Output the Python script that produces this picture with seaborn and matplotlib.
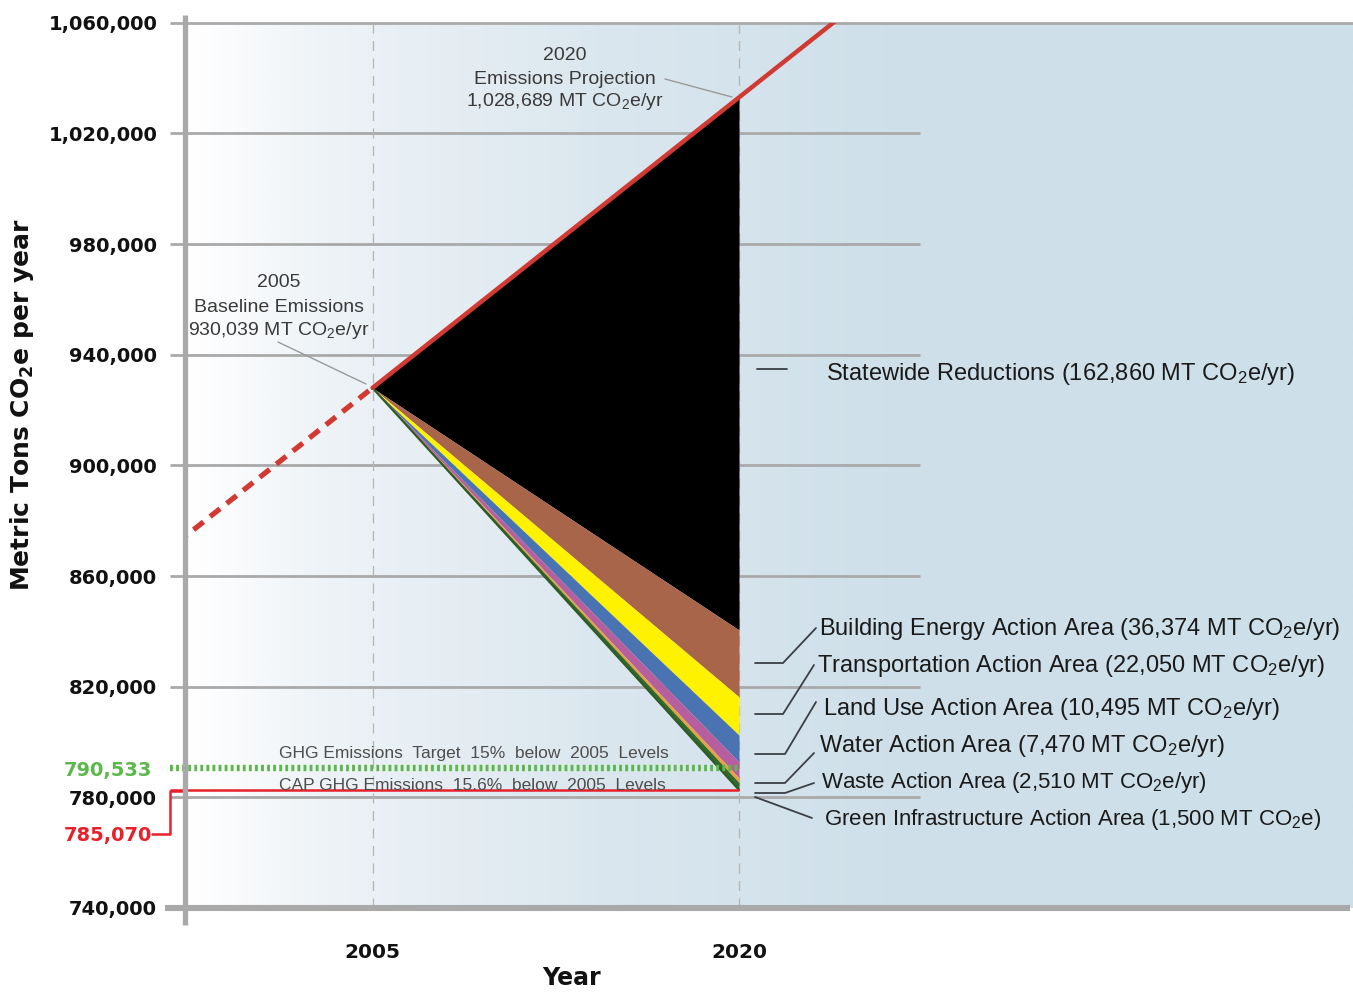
import numpy as np
import pandas as pd
import matplotlib
matplotlib.use('Agg')
import matplotlib.pyplot as plt
import seaborn as sns
from matplotlib.lines import Line2D
from matplotlib.colors import LinearSegmentedColormap

#-----------------------------------------
# data
#-----------------------------------------
tick_values = [740000, 780000, 820000, 860000, 900000, 940000, 980000, 1020000, 1060000]
tick_labels = ['740,000', '780,000', '820,000', '860,000', '900,000',
               '940,000', '980,000', '1,020,000', '1,060,000']
year_ticks = [2005, 2020]

# emissions trend (dashed before 2005, solid after)
trend_years = [1997, 2005, 2020, 2025]
trend_values = [872000, 928000, 1033000, 1068000]

baseline_year = 2005
baseline_value = 928000
target_year = 2020
target_value = 790533      # GHG target (green)
cap_value = 782700         # CAP level (red), as drawn

# reduction wedge: bottom of each band at 2020, top of first band = projection
band_names = ['Statewide Reductions', 'Building Energy', 'Transportation',
              'Land Use', 'Water', 'Waste', 'Green Infrastructure']
band_bottoms = [840500, 816300, 802500, 792800, 787000, 785300, 782700]
band_colors = ['#000000', '#a9654a', '#fff200', '#4a73b2', '#b55f9f', '#e9a23e', '#2f6a2c']
projection_2020 = 1033000

label_texts = [
    'Statewide Reductions (162,860 MT CO$_2$e/yr)',
    'Building Energy Action Area (36,374 MT CO$_2$e/yr)',
    'Transportation Action Area (22,050 MT CO$_2$e/yr)',
    'Land Use Action Area (10,495 MT CO$_2$e/yr)',
    'Water Action Area (7,470 MT CO$_2$e/yr)',
    'Waste Action Area (2,510 MT CO$_2$e/yr)',
    'Green Infrastructure Action Area (1,500 MT CO$_2$e)',
]

#-----------------------------------------
# style
#-----------------------------------------
sns.set_theme(style='white')
plt.rcParams['font.family'] = ['Liberation Sans', 'DejaVu Sans']
plt.rcParams['mathtext.default'] = 'regular'

W, H = 1353, 994
fig = plt.figure(figsize=(W / 100, H / 100), dpi=100)
fig.patch.set_facecolor('white')

def fx(x):
    return x / W

def fy(y):
    return 1 - y / H

ax = fig.add_axes([fx(185), fy(908), fx(W - 185), (908 - 22.7) / H])
px_per_year = 366.5 / 15
x_left = 2005 - (372.5 - 185) / px_per_year
x_right = 2020 + (W - 739) / px_per_year
for s in ax.spines.values():
    s.set_visible(False)

GRID = '#a9a9a9'

# background gradient
cmap = LinearSegmentedColormap.from_list(
    'bg', [(0, '#ffffff'), (0.12, '#eef3f7'), (0.35, '#dbe7ef'), (0.6, '#cfe0ea'), (1, '#cddfe9')])
grad = np.linspace(0, 1, 512).reshape(1, -1)
ax.imshow(grad, cmap=cmap, aspect='auto', extent=[x_left, x_right, 740000, 1060000],
          zorder=0, interpolation='bilinear')

# gridlines
grid_right = 2020 + 181 / px_per_year
ax.hlines(tick_values[1:-1], x_left, grid_right, color=GRID, lw=2.0, zorder=1)
ax.hlines(tick_values[-1], x_left, x_right, color=GRID, lw=2.0, zorder=1, clip_on=False)

# vertical year guides
for yr in year_ticks:
    ax.axvline(yr, color='#b5b5b5', lw=0.9, dashes=(8, 6), zorder=1)

# wedge
tops = [projection_2020] + band_bottoms[:-1]
for top, bot, col in zip(tops, band_bottoms, band_colors):
    ax.fill_between([baseline_year, target_year], [baseline_value, top],
                    [baseline_value, bot], color=col, lw=0, zorder=3)
ax.plot([baseline_year, target_year], [baseline_value, band_bottoms[-1]],
        color='#2f5a25', lw=1.6, zorder=4)

# trend line
trend = pd.DataFrame({'year': trend_years, 'value': trend_values})
sns.lineplot(data=trend[trend['year'] <= baseline_year], x='year', y='value', ax=ax,
             color='#d13a33', lw=3.8, linestyle=(0, (2.4, 1.6)), zorder=5)
sns.lineplot(data=trend[trend['year'] >= baseline_year], x='year', y='value', ax=ax,
             color='#d13a33', lw=3.2, zorder=5)
ax.set_xlim(x_left, x_right)
ax.set_ylim(740000, 1060000)

# target and CAP lines
ax.hlines(target_value, x_left - 15 / px_per_year, target_year, color='#5cb84a', lw=4.6,
          linestyles=[(0, (0.45, 0.5))], zorder=4, clip_on=False)
ax.hlines(cap_value, x_left - 15 / px_per_year, target_year, color='#e8202a', lw=1.8,
          zorder=4, clip_on=False)

fig.text(fx(473.5), fy(758), 'GHG Emissions  Target  15%  below  2005  Levels',
         ha='center', va='baseline', fontsize=12.5, color='#4d4d4d')
fig.text(fx(472), fy(790), 'CAP GHG Emissions  15.6%  below  2005  Levels',
         ha='center', va='baseline', fontsize=12.5, color='#4d4d4d')

# ticks
ax.set_yticks(tick_values)
ax.set_yticklabels(tick_labels)
ax.set_xticks(year_ticks)
ax.set_xticklabels([str(y) for y in year_ticks])
ax.tick_params(axis='y', length=11, width=2.0, color=GRID, direction='out', pad=9,
               labelsize=14, left=True)
ax.tick_params(axis='x', length=0, pad=25, labelsize=14.5)
for lab in ax.get_yticklabels() + ax.get_xticklabels():
    lab.set_fontfamily('DejaVu Sans')
    lab.set_fontweight('bold')
    lab.set_color('#111111')
ax.set_xlabel('')
ax.set_ylabel('')

# coloured value labels on the y axis
fig.text(fx(152), fy(776), '790,533', ha='right', va='baseline', fontsize=14,
         fontweight='bold', family='DejaVu Sans', color='#5cb84a')
fig.text(fx(152), fy(841), '785,070', ha='right', va='baseline', fontsize=14,
         fontweight='bold', family='DejaVu Sans', color='#e8202a')
fig.add_artist(Line2D([fx(152), fx(170), fx(170), fx(185)],
                      [fy(834), fy(834), fy(791), fy(791)],
                      transform=fig.transFigure, color='#e8202a', lw=1.8))

# axis spines, drawn long like the original
fig.add_artist(Line2D([fx(185), fx(185)], [fy(15), fy(925)], transform=fig.transFigure,
                      color=GRID, lw=3.8, solid_capstyle='butt'))
fig.add_artist(Line2D([fx(165), fx(1350)], [fy(908), fy(908)], transform=fig.transFigure,
                      color=GRID, lw=4.4, solid_capstyle='butt'))

# axis titles
fig.text(fx(22), fy(405), 'Metric Tons CO$_2$e per year', rotation=90, ha='center',
         va='center', fontsize=18, fontweight='bold', family='DejaVu Sans', color='#111111')
fig.text(fx(571), fy(978), 'Year', ha='center', va='center', fontsize=17,
         fontweight='bold', family='DejaVu Sans', color='#111111')

# point annotations
ann_color = '#3a3a3a'
for txt, yb in [('2005', 287), ('Baseline Emissions', 312), ('930,039 MT CO$_2$e/yr', 335)]:
    fig.text(fx(279), fy(yb), txt, ha='center', va='baseline', fontsize=14, color=ann_color)
fig.add_artist(Line2D([fx(278), fx(366)], [fy(342), fy(384)], transform=fig.transFigure,
                      color='#9a9a9a', lw=1.0))
for txt, yb in [('2020', 60), ('Emissions Projection', 83.5), ('1,028,689 MT CO$_2$e/yr', 106)]:
    fig.text(fx(565), fy(yb), txt, ha='center', va='baseline', fontsize=14, color=ann_color)
fig.add_artist(Line2D([fx(665), fx(732)], [fy(79), fy(97)], transform=fig.transFigure,
                      color='#9a9a9a', lw=1.0))

# right-hand labels with leader lines
label_pos = [(826, 380), (819, 635), (817, 672), (823, 715), (819, 752), (821, 788), (824, 825)]
label_sizes = [17, 17, 17, 17, 17, 16, 16]
leaders = [
    [(757, 369), (787, 369)],
    [(755, 663), (783, 663), (816, 628)],
    [(755, 714), (783, 714), (814, 665)],
    [(755, 754), (785, 754), (816, 702)],
    [(755, 783), (785, 783), (814, 753)],
    [(755, 793), (785, 793), (814, 783)],
    [(755, 797), (812, 818)],
]
for txt, (lx, ly), fs, pts in zip(label_texts, label_pos, label_sizes, leaders):
    fig.text(fx(lx), fy(ly), txt, ha='left', va='baseline', fontsize=fs, color='#1a1a1a')
    xs = [fx(p[0]) for p in pts]
    ys = [fy(p[1]) for p in pts]
    fig.add_artist(Line2D(xs, ys, transform=fig.transFigure, color='#3a3f45', lw=1.3))

fig.savefig('out.png', dpi=100)
